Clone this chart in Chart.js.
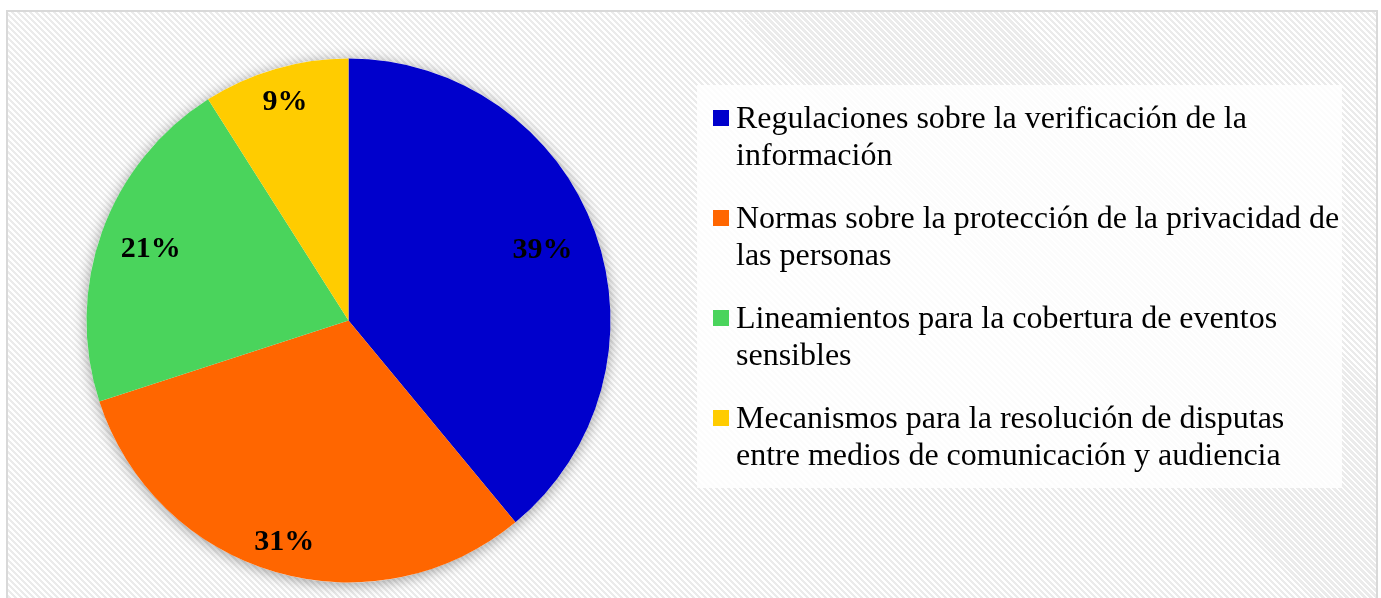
<!DOCTYPE html>
<html>
<head>
<meta charset="utf-8">
<script src="https://cdn.jsdelivr.net/npm/chart.js@4"></script>
<style>
  html, body { margin: 0; padding: 0; background: #ffffff; }
  body { width: 1381px; height: 598px; position: relative; overflow: hidden; }
  #frame {
    position: absolute; left: 6px; top: 10px; width: 1368px; height: 600px;
    border: 2px solid #d9d9d9; border-bottom: none;
    background: repeating-linear-gradient(45deg, #ffffff 0px, #ffffff 2px, #ebebeb 2px, #ebebeb 4.24px);
  }
  #chartWrap { position: absolute; left: 0; top: 0; width: 1381px; height: 598px; }
  #legend {
    position: absolute; left: 697px; top: 85px; width: 645px; height: 403px;
    background: rgba(255,255,255,0.85);
    font-family: "Liberation Serif", "Times New Roman", serif; font-size: 32px; line-height: 37px; color: #000;
  }
  .item { position: absolute; left: 39px; }
  .swatch { position: absolute; left: -23px; top: 11px; width: 16px; height: 16px; }
  .line { white-space: nowrap; }
</style>
</head>
<body>
<div id="frame"></div>
<div id="chartWrap"><canvas id="c" width="1381" height="598"></canvas></div>
<div id="legend"></div>
<script>
const categories = [
  ["Regulaciones sobre la verificación de la", "información"],
  ["Normas sobre la protección de la privacidad de", "las personas"],
  ["Lineamientos para la cobertura de eventos", "sensibles"],
  ["Mecanismos para la resolución de disputas", "entre medios de comunicación y audiencia"]
];
const percentages = [39, 31, 21, 9];
const sliceColors = ["#0000CC", "#FF6600", "#4AD45C", "#FFCC00"];

// label placement along each slice bisector (fraction of radius) – styling only
const labelRadiusFraction = [0.787, 0.88, 0.802, 0.869];

const pieShadow = {
  id: 'pieShadow',
  beforeDatasetsDraw(chart) {
    const arc = chart.getDatasetMeta(0).data[0];
    if (!arc) return;
    const ctx = chart.ctx;
    ctx.save();
    ctx.shadowColor = 'rgba(0,0,0,0.38)';
    ctx.shadowBlur = 14;
    ctx.shadowOffsetY = 2;
    ctx.fillStyle = '#ffffff';
    ctx.beginPath();
    ctx.arc(arc.x, arc.y, arc.outerRadius, 0, Math.PI * 2);
    ctx.fill();
    ctx.restore();
  }
};

const sliceLabels = {
  id: 'sliceLabels',
  afterDatasetsDraw(chart) {
    const ctx = chart.ctx;
    const meta = chart.getDatasetMeta(0);
    const data = chart.data.datasets[0].data;
    ctx.save();
    ctx.font = 'bold 30px "Liberation Serif", "Times New Roman", serif';
    ctx.fillStyle = '#000';
    ctx.textAlign = 'center';
    ctx.textBaseline = 'middle';
    meta.data.forEach((arc, i) => {
      const mid = (arc.startAngle + arc.endAngle) / 2;
      const r = arc.outerRadius * labelRadiusFraction[i];
      ctx.fillText(data[i] + '%', arc.x + Math.cos(mid) * r, arc.y + Math.sin(mid) * r);
    });
    ctx.restore();
  }
};

const chart = new Chart(document.getElementById('c'), {
  type: 'pie',
  data: {
    labels: categories,
    datasets: [{
      data: percentages,
      backgroundColor: sliceColors,
      borderWidth: 0,
      hoverOffset: 0
    }]
  },
  options: {
    responsive: false,
    animation: false,
    events: [],
    layout: { padding: { left: 86.5, top: 58.5, right: 770.5, bottom: 15.5 } },
    plugins: {
      legend: { display: false },
      tooltip: { enabled: false }
    }
  },
  plugins: [pieShadow, sliceLabels]
});

// HTML legend built from the chart's data
const legendEl = document.getElementById('legend');
chart.data.labels.forEach((lines, i) => {
  const item = document.createElement('div');
  item.className = 'item';
  item.style.top = (14 + i * 100) + 'px';
  const sw = document.createElement('div');
  sw.className = 'swatch';
  sw.style.background = chart.data.datasets[0].backgroundColor[i];
  item.appendChild(sw);
  lines.forEach(t => {
    const l = document.createElement('div');
    l.className = 'line';
    l.textContent = t;
    item.appendChild(l);
  });
  legendEl.appendChild(item);
});
</script>
</body>
</html>
